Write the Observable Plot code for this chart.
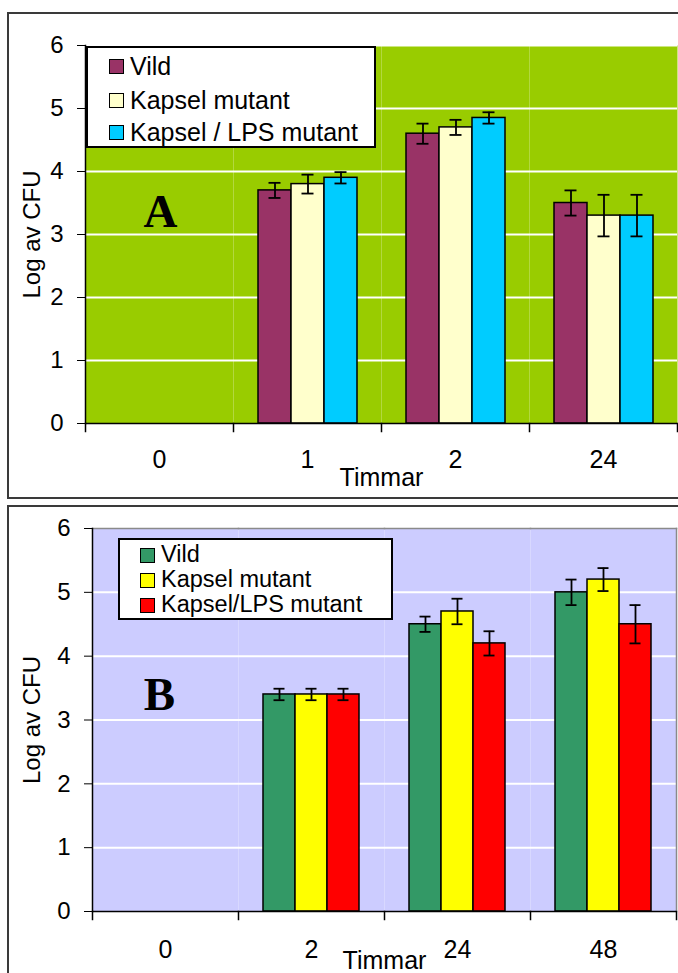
<!DOCTYPE html>
<html>
<head>
<meta charset="utf-8">
<script src="https://cdn.jsdelivr.net/npm/d3@7"></script>
<script src="https://cdn.jsdelivr.net/npm/@observablehq/plot@0.6"></script>
<style>
  html, body { margin: 0; padding: 0; background: #fff; }
  #root { position: relative; width: 678px; height: 973px; overflow: hidden; font-family: "Liberation Sans", Arial, sans-serif; }
  .panel { position: absolute; border: 2px solid #3a3a3a; box-sizing: border-box; z-index: 0; }
  .chart { position: absolute; left: 0; z-index: 1; }
  .legend { position: absolute; background: #fff; border: 2px solid #000; box-sizing: border-box; z-index: 2; }
  .legend .row { position: absolute; display: flex; align-items: center; color: #000; white-space: nowrap; line-height: 1; }
  .legend .sw { width: 13px; height: 13px; border: 1.5px solid #000; margin-right: 6px; flex: none; }
</style>
</head>
<body>
<div id="root"></div>
<script>
// ---------- Data: panel A ----------
const timesA = ["0", "1", "2", "24"];
const seriesA = ["Vild", "Kapsel mutant", "Kapsel / LPS mutant"];
const colorsA = ["#993366", "#FFFFCC", "#00CCFF"];
const vildA = [null, 3.7, 4.6, 3.5];
const vildErrA = [null, 0.12, 0.16, 0.2];
const kapselA = [null, 3.8, 4.7, 3.3];
const kapselErrA = [null, 0.15, 0.12, 0.33];
const lpsA = [null, 3.9, 4.85, 3.3];
const lpsErrA = [null, 0.09, 0.09, 0.33];

// ---------- Data: panel B ----------
const timesB = ["0", "2", "24", "48"];
const seriesB = ["Vild", "Kapsel mutant", "Kapsel/LPS mutant"];
const colorsB = ["#339966", "#FFFF00", "#FF0000"];
const vildB = [null, 3.4, 4.5, 5.0];
const vildErrB = [null, 0.09, 0.12, 0.2];
const kapselB = [null, 3.4, 4.7, 5.2];
const kapselErrB = [null, 0.09, 0.2, 0.18];
const lpsB = [null, 3.4, 4.2, 4.5];
const lpsErrB = [null, 0.09, 0.19, 0.3];

const yTicks = [0, 1, 2, 3, 4, 5, 6];
const yLabel = "Log av CFU";
const xLabel = "Timmar";

const root = document.getElementById("root");

function buildPanel(cfg) {
  const rows = [];
  cfg.times.forEach((t, i) =>
    cfg.series.forEach((s, j) =>
      rows.push({time: t, series: s, value: cfg.values[j][i], err: cfg.errors[j][i]})
    )
  );
  const measured = rows.filter(d => d.value != null);
  const innerH = cfg.height - cfg.mt - cfg.mb;
  const marks = [
    Plot.frame({fill: cfg.bg}),
    Plot.gridY(cfg.grid, {stroke: "#fff", strokeOpacity: 1, strokeWidth: 2})
  ];
  if (cfg.border) {
    marks.push(
      Plot.frame({anchor: "top", stroke: cfg.border, strokeWidth: 1.5}),
      Plot.frame({anchor: "right", facetAnchor: "right", stroke: cfg.border, strokeWidth: 1.5})
    );
  }
  marks.push(
    Plot.barY(rows, {fx: "time", x: "series", y: "value", fill: "series", stroke: "#000", strokeWidth: 1.5}),
    Plot.ruleX(measured, {fx: "time", x: "series", y1: d => d.value - d.err, y2: d => d.value + d.err, stroke: "#000", strokeWidth: 1.8}),
    Plot.tickY(measured, {fx: "time", x: "series", y: d => d.value - d.err, stroke: "#000", strokeWidth: 1.8, insetLeft: 10.5, insetRight: 10.5}),
    Plot.tickY(measured, {fx: "time", x: "series", y: d => d.value + d.err, stroke: "#000", strokeWidth: 1.8, insetLeft: 10.5, insetRight: 10.5}),
    Plot.ruleY([0], {stroke: "#000", strokeWidth: 1.5}),
    Plot.frame({anchor: "left", facetAnchor: "left", stroke: "#000", strokeWidth: 1.5}),
    Plot.frame({anchor: "left", stroke: "#000", strokeWidth: 1.5, insetTop: innerH, insetBottom: -8}),
    Plot.frame({anchor: "right", facetAnchor: "right", stroke: "#000", strokeWidth: 1.5, insetTop: innerH, insetBottom: -8}),
    Plot.text([{time: cfg.times[0], y: cfg.letterY, label: cfg.letter}], {
      fx: "time", y: "y", text: "label", dx: cfg.letterDx,
      fontFamily: "'Liberation Serif', 'Times New Roman', serif", fontWeight: "bold", fontSize: 47, fill: "#000"
    }),
    Plot.axisY({ticks: yTicks, tickFormat: d3.format("d"), tickSize: 8, tickPadding: 14, fontSize: 24, label: yLabel, labelAnchor: "center", labelArrow: "none", labelOffset: cfg.labelOffsetY}),
    Plot.axisFx({anchor: "bottom", tickSize: 0, tickPadding: cfg.fxPad, label: xLabel, labelAnchor: "center", labelArrow: "none", labelOffset: cfg.labelOffsetX})
  );
  const svg = Plot.plot({
    width: 678,
    height: cfg.height,
    marginLeft: cfg.ml, marginRight: cfg.mr, marginTop: cfg.mt, marginBottom: cfg.mb,
    style: {background: "transparent", fontFamily: "'Liberation Sans', Arial, sans-serif", fontSize: "25px", color: "#000", overflow: "visible"},
    fx: {domain: cfg.times, padding: 0, label: null},
    x: {domain: cfg.series, paddingInner: 0, paddingOuter: 0.73, axis: null},
    y: {domain: [0, 6], nice: false},
    color: {domain: cfg.series, range: cfg.colors},
    marks
  });
  svg.classList.add("chart");
  svg.style.top = cfg.top + "px";
  return svg;
}

function buildLegend(cfg) {
  const box = document.createElement("div");
  box.className = "legend";
  Object.assign(box.style, {left: cfg.left + "px", top: cfg.top + "px", width: cfg.width + "px", height: cfg.height + "px", fontSize: cfg.fontSize + "px"});
  cfg.series.forEach((s, i) => {
    const row = document.createElement("div");
    row.className = "row";
    row.style.left = cfg.rowLeft + "px";
    row.style.height = cfg.rowH + "px";
    row.style.top = (cfg.rowCenters[i] - cfg.rowH / 2) + "px";
    const sw = document.createElement("span");
    sw.className = "sw";
    sw.style.background = cfg.colors[i];
    const tx = document.createElement("span");
    tx.textContent = s;
    row.appendChild(sw);
    row.appendChild(tx);
    box.appendChild(row);
  });
  return box;
}

// Panel frames
const frameA = document.createElement("div");
frameA.className = "panel";
Object.assign(frameA.style, {left: "7px", top: "12px", width: "700px", height: "487px"});
root.appendChild(frameA);
const frameB = document.createElement("div");
frameB.className = "panel";
Object.assign(frameB.style, {left: "7px", top: "505px", width: "700px", height: "500px"});
root.appendChild(frameB);

root.appendChild(buildPanel({
  times: timesA, series: seriesA, colors: colorsA,
  values: [vildA, kapselA, lpsA], errors: [vildErrA, kapselErrA, lpsErrA],
  bg: "#99CC00", grid: [1, 2, 3, 4, 5, 6], border: null,
  height: 500, top: 0, ml: 85, mr: 1, mt: 45, mb: 77,
  letter: "A", letterY: 3.35, letterDx: 1,
  labelOffsetY: 63, labelOffsetX: 62, fxPad: 27
}));
root.appendChild(buildPanel({
  times: timesB, series: seriesB, colors: colorsB,
  values: [vildB, kapselB, lpsB], errors: [vildErrB, kapselErrB, lpsErrB],
  bg: "#CCCCFF", grid: [1, 2, 3, 4, 5], border: "#8a8a8a",
  height: 473, top: 500, ml: 92, mr: 2, mt: 28, mb: 62,
  letter: "B", letterY: 3.4, letterDx: -6,
  labelOffsetY: 70, labelOffsetX: 57, fxPad: 29
}));

root.appendChild(buildLegend({
  series: seriesA, colors: colorsA, left: 86, top: 46, width: 290, height: 102,
  fontSize: 25, rowLeft: 21, rowH: 30, rowCenters: [18, 52, 84]
}));
root.appendChild(buildLegend({
  series: seriesB, colors: colorsB, left: 118, top: 538, width: 275, height: 82,
  fontSize: 23.5, rowLeft: 20, rowH: 24, rowCenters: [15, 40, 65]
}));
</script>
</body>
</html>
